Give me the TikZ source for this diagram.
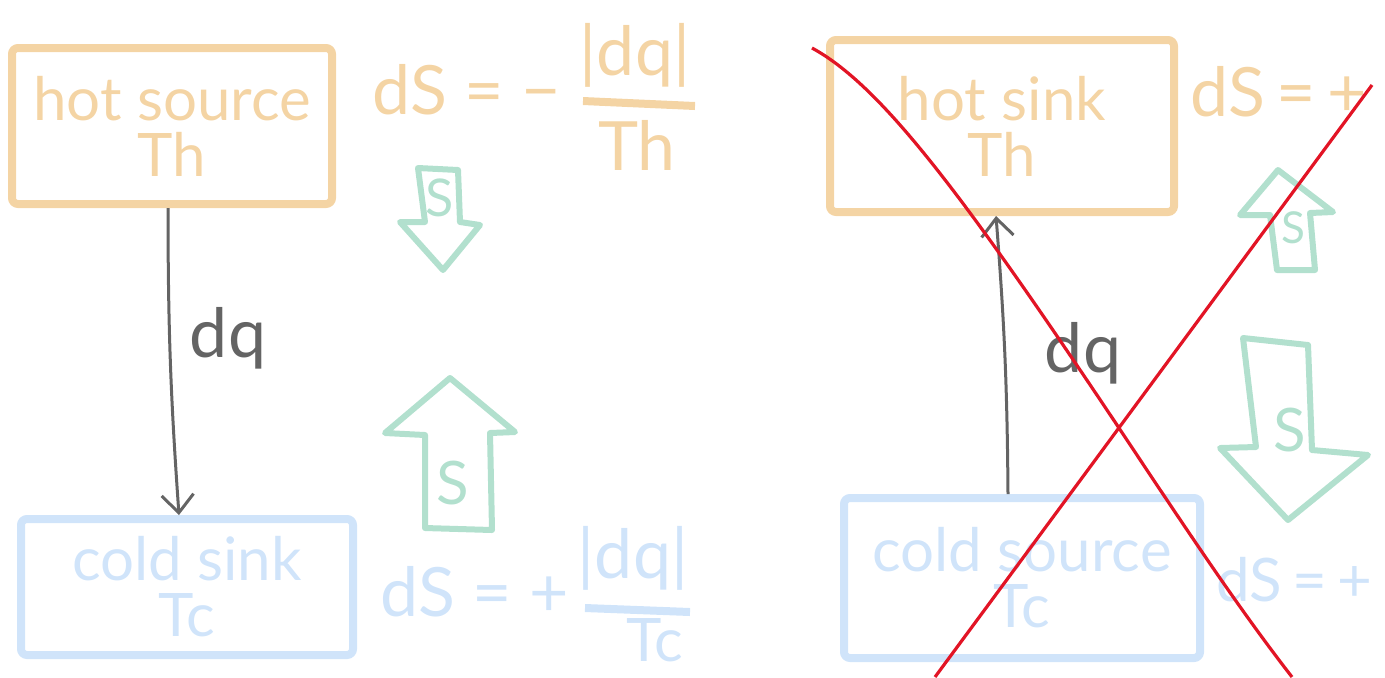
\documentclass[tikz,border=0pt]{standalone}
\usepackage{fontspec}
\setmainfont{Lato}
\usetikzlibrary{arrows.meta}
\definecolor{hotcol}{RGB}{244,212,164}
\definecolor{coldcol}{RGB}{208,228,250}
\definecolor{scol}{RGB}{178,224,206}
\definecolor{qcol}{RGB}{100,100,100}
\definecolor{crosscol}{RGB}{226,20,37}
\tikzset{
  reservoir/.style={draw, line width=4pt, rounded corners=3pt, align=center,
    font=\fontsize{30}{28}\selectfont},
  hand/.style={font=\fontsize{34}{34}\selectfont, inner sep=0pt},
  sarrow/.style={draw=scol, line width=3pt, line join=round},
  heatflow/.style={draw=qcol, line width=1.5pt, -{Straight Barb[length=9pt,width=16pt]}},
  crossout/.style={draw=crosscol, line width=1.6pt}
}
\begin{document}
\begin{tikzpicture}[x=0.5pt, y=-0.5pt]
    \useasboundingbox (0,0) rectangle (1385,677);
    \clip (0,0) rectangle (1385,677);

    % Left: the working direction
    \node[reservoir, draw=hotcol, text=hotcol, minimum width=160pt, minimum height=78pt]
      (hotsrc) at (172,126) {hot source\\Th};
    \node[reservoir, draw=coldcol, text=coldcol, minimum width=166pt, minimum height=68pt]
      (coldsnk) at (187,587) {cold sink\\Tc};
    \draw[heatflow] ([xshift=-2pt]hotsrc.south) to[bend right=2] ([xshift=-4pt]coldsnk.north);
    \node[hand, text=qcol] (dqa) at (228,338) {dq};

    % Entropy of the hot source
    \node[hand, text=hotcol, anchor=west] (dsh) at (372,90) {dS = −};
    \node[hand, text=hotcol] (numh) at (635,55) {|dq|};
    \node[hand, text=hotcol] (denh) at (637,145) {Th};
    \draw[hotcol, line width=4pt] (583,101) -- (695,106);

    % Entropy of the cold sink
    \node[hand, text=coldcol, anchor=west] (dsc) at (380,592) {dS = +};
    \node[hand, text=coldcol] (numc) at (633,558) {|dq|};
    \node[hand, text=coldcol, font=\fontsize{30}{30}\selectfont] (denc) at (655,640) {Tc};
    \draw[coldcol, line width=4pt] (585,608) -- (690,612);

    % S arrows, left
    \draw[sarrow] (418,168) -- (458,170) -- (460,222) -- (480,225) -- (443,270)
      -- (400,222) -- (425,222) -- cycle;
    \node[hand, text=scol, font=\fontsize{26}{26}\selectfont] (sdown) at (440,198) {S};
    \draw[sarrow] (450,378) -- (515,432) -- (490,433) -- (492,530) -- (425,528)
      -- (425,435) -- (385,433) -- cycle;
    \node[hand, text=scol, font=\fontsize{30}{30}\selectfont] (sup) at (453,483) {S};

    % Right: the reversed direction
    \node[reservoir, draw=hotcol, text=hotcol, minimum width=172pt, minimum height=86pt]
      (hotsnk) at (1002,126) {hot sink\\Th};
    \node[reservoir, draw=coldcol, text=coldcol, minimum width=178pt, minimum height=80pt]
      (coldsrc) at (1022,578) {cold source\\Tc};
    \draw[heatflow] ([xshift=-7pt]coldsrc.north) to[bend right=2] ([xshift=-3pt]hotsnk.south);
    \node[hand, text=qcol] (dqb) at (1083,353) {dq};

    \node[hand, text=hotcol, anchor=west] (dshr) at (1190,92) {dS\,=\,+};
    \node[hand, text=coldcol, anchor=west, font=\fontsize{30}{30}\selectfont]
      (dscr) at (1216,580) {dS\,=\,+};

    % S arrows, right
    \draw[sarrow] (1278,170) -- (1333,212) -- (1310,213) -- (1315,270) -- (1277,270)
      -- (1270,215) -- (1240,215) -- cycle;
    \node[hand, text=scol, font=\fontsize{22}{22}\selectfont] (supr) at (1293,228) {S};
    \draw[sarrow] (1243,338) -- (1308,345) -- (1312,450) -- (1368,455) -- (1288,520)
      -- (1220,448) -- (1256,447) -- cycle;
    \node[hand, text=scol, font=\fontsize{30}{30}\selectfont] (sdownr) at (1290,430) {S};

    % Cross
    \draw[crossout] (812,48) .. controls (880,85) and (960,190) .. (1115,422)
      .. controls (1190,535) and (1240,610) .. (1292,677);
    \draw[crossout] (1372,85) -- (935,677);
\end{tikzpicture}
\end{document}
